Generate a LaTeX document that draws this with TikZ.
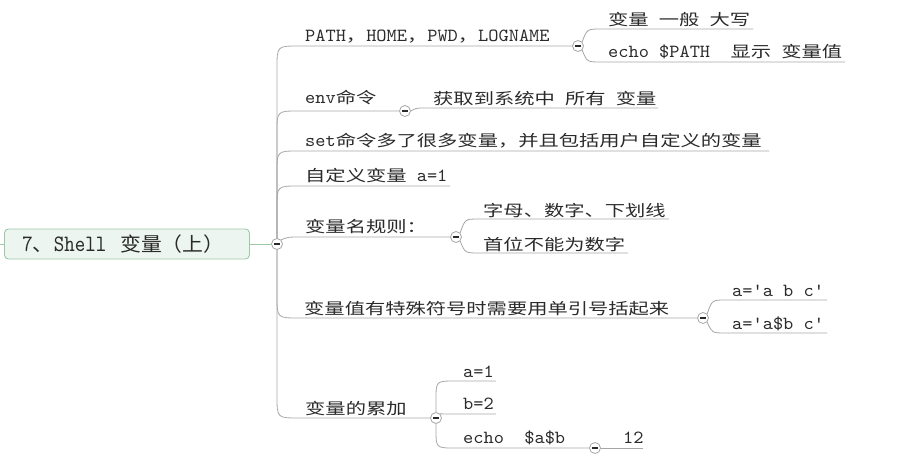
\documentclass[tikz,border=0pt]{standalone}
\usepackage{fontspec}
\newfontfamily\cjkA[FakeStretch=1.3]{Noto Sans CJK SC}
\newfontfamily\cjkB[FakeStretch=1.07]{Noto Sans CJK SC}
\newfontfamily\latA[FakeStretch=1.05]{lmmono10-regular.otf}
\newfontfamily\latB[FakeStretch=0.85]{lmmono10-regular.otf}
\newcommand\ZH[1]{{\cjkA\fontsize{15.6pt}{18pt}\selectfont #1}}
\newcommand\LT[1]{{\latA\fontsize{18.5pt}{20pt}\selectfont #1}}
\newcommand\RZH[1]{{\cjkB\fontsize{19.5pt}{22pt}\selectfont #1}}
\newcommand\RLT[1]{{\latB\fontsize{23.5pt}{25pt}\selectfont #1}}
\definecolor{txt}{HTML}{2A2A2A}
\definecolor{conn}{HTML}{A6A6A6}
\definecolor{rootfill}{HTML}{ECF5EF}
\definecolor{rootdraw}{HTML}{9CC8A6}
\tikzset{
  lbl/.style={anchor=base west, inner sep=0pt, text=txt},
  cn/.style={draw=conn, line width=0.8pt},
  rootlink/.style={draw=rootdraw, line width=0.9pt},
  rootbox/.style={draw=rootdraw, fill=rootfill, rounded corners=4pt, line width=0.9pt,
    minimum width=245pt, minimum height=30pt, anchor=west, inner xsep=18pt,
    text width=209pt, align=left, text=txt},
  fold/.style={circle, draw=conn, fill=white, line width=0.8pt, minimum size=11pt, inner sep=0pt,
    path picture={\draw[txt, line width=1.1pt] ([xshift=-2.8pt]path picture bounding box.center) -- ([xshift=2.8pt]path picture bounding box.center);}},
}
\begin{document}
\begin{tikzpicture}[x=1pt,y=-1pt]
\useasboundingbox (0,0) rectangle (899,457);
% root
\node[rootbox] (root) at (4,244) {\RLT{7}\RZH{、}\RLT{Shell}\hspace{14pt}\RZH{变量（上）}};
\coordinate (stub) at (0,244);
\node[fold] (r) at (277,244) {};
% first level labels
\node[lbl] (t1) at (305,42) {\LT{PATH}\ZH{，}\LT{HOME}\ZH{，}\LT{PWD}\ZH{，}\LT{LOGNAME}};
\node[lbl] (t2) at (305,104) {\LT{env}\ZH{命令}};
\node[lbl] (t3) at (305,147) {\LT{set}\ZH{命令多了很多变量，并且包括用户自定义的变量}};
\node[lbl] (t4) at (305,182) {\ZH{自定义变量}\LT{~a=1}};
\node[lbl] (t5) at (305,233) {\ZH{变量名规则：}};
\node[lbl] (t6) at (304,314) {\ZH{变量值有特殊符号时需要用单引号括起来}};
\node[lbl] (t7) at (305,414) {\ZH{变量的累加}};
% fold circles
\node[fold] (f1) at (578,46) {};
\node[fold] (f2) at (405,111) {};
\node[fold] (f5) at (456,237) {};
\node[fold] (f6) at (703,318) {};
\node[fold] (f7) at (436,418) {};
\node[fold] (f7c) at (595,448) {};
% end coordinates
\coordinate (e3) at (769,151);
\coordinate (e4) at (450,186);
\coordinate (e1a) at (753,29);
\coordinate (e1b) at (845,62);
\coordinate (e2a) at (658,108);
\coordinate (e5a) at (669,219);
\coordinate (e5b) at (628,253);
\coordinate (e6a) at (827,300);
\coordinate (e6b) at (827,333);
\coordinate (e7a) at (496,381);
\coordinate (e7b) at (496,414);
\coordinate (e7d) at (643,448);
% second level labels
\node[lbl] (t1a) at (608,26) {\ZH{变量}\LT{~}\ZH{一般}\LT{~}\ZH{大写}};
\node[lbl] (t1b) at (608,58) {\LT{echo~\$PATH~~}\ZH{显示}\LT{~}\ZH{变量值}};
\node[lbl] (t2a) at (433,105) {\ZH{获取到系统中}\LT{~}\ZH{所有}\LT{~}\ZH{变量}};
\node[lbl] (t5a) at (483,216) {\ZH{字母、数字、下划线}};
\node[lbl] (t5b) at (483,250) {\ZH{首位不能为数字}};
\node[lbl] (t6a) at (732,296) {\LT{a='a~b~c'}};
\node[lbl] (t6b) at (732,329) {\LT{a='a\$b~c'}};
\node[lbl] (t7a) at (463,377) {\LT{a=1}};
\node[lbl] (t7b) at (463,409) {\LT{b=2}};
\node[lbl] (t7c) at (463,443) {\LT{echo~~\$a\$b}};
\node[lbl] (t7d) at (623,443) {\LT{12}};
% root connectors
\draw[rootlink] (stub) -- (root.west);
\draw[rootlink] (root.east) -- (r.west);
% trunk branches
\draw[cn] (r.north) -- (277,68) .. controls (277,46) .. (299,46) -- (f1.west);
\draw[cn] (r.north) -- (277,132) .. controls (277,111) .. (299,111) -- (f2.west);
\draw[cn] (r.north) -- (277,172) .. controls (277,151) .. (299,151) -- (e3);
\draw[cn] (r.north) -- (277,207) .. controls (277,186) .. (299,186) -- (e4);
\draw[cn] (r.north east) .. controls (288,237) .. (302,237) -- (f5.west);
\draw[cn] (r.south) -- (277,296) .. controls (277,318) .. (299,318) -- (f6.west);
\draw[cn] (r.south) -- (277,396) .. controls (277,418) .. (299,418) -- (f7.west);
% second level connectors
\draw[cn] (f1.north east) .. controls (587,29) .. (601,29) -- (e1a);
\draw[cn] (f1.south east) .. controls (587,62) .. (601,62) -- (e1b);
\draw[cn] (f2.east) .. controls (416,108) .. (426,108) -- (e2a);
\draw[cn] (f5.north east) .. controls (465,219) .. (479,219) -- (e5a);
\draw[cn] (f5.south east) .. controls (465,253) .. (479,253) -- (e5b);
\draw[cn] (f6.north east) .. controls (712,300) .. (726,300) -- (e6a);
\draw[cn] (f6.south east) .. controls (712,333) .. (726,333) -- (e6b);
\draw[cn] (f7.north) -- (436,400) .. controls (436,381) .. (455,381) -- (e7a);
\draw[cn] (f7.north east) .. controls (445,414) .. (455,414) -- (e7b);
\draw[cn] (f7.south) -- (436,430) .. controls (436,448) .. (455,448) -- (f7c.west);
\draw[cn] (f7c.east) -- (e7d);
\end{tikzpicture}
\end{document}
